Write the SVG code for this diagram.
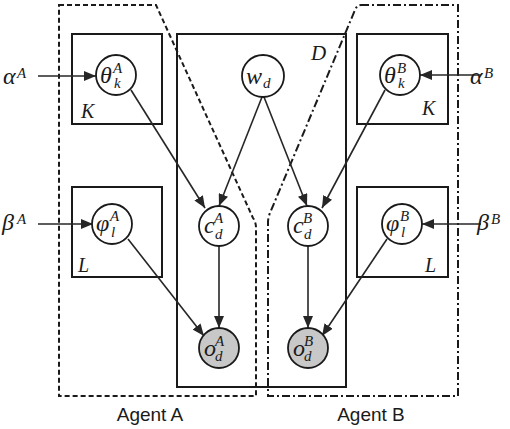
<svg xmlns="http://www.w3.org/2000/svg" width="510" height="429" viewBox="0 0 510 429">
<defs>
<marker id="arr" markerUnits="userSpaceOnUse" markerWidth="12" markerHeight="10" refX="12" refY="5" orient="auto">
<path d="M0,0 L12,5 L0,10 Z" fill="#262626"/>
</marker>
</defs>
<style>
.plate{fill:none;stroke:#1a1a1a;stroke-width:2}
.agA{fill:none;stroke:#1a1a1a;stroke-width:2;stroke-dasharray:5 3}
.agB{fill:none;stroke:#1a1a1a;stroke-width:2;stroke-dasharray:8 3 2 3}
.node{fill:#fff;stroke:#1a1a1a;stroke-width:1.8}
.obs{fill:#c8c8c8;stroke:#1a1a1a;stroke-width:1.8}
.edge{stroke:#262626;stroke-width:1.6;fill:none;marker-end:url(#arr)}
.m{font-family:"Liberation Serif","DejaVu Serif",serif;font-style:italic;fill:#1a1a1a}
.b{font-size:24px}
.s{font-size:15px}
.lbl{font-family:"Liberation Sans",Arial,sans-serif;font-size:19px;fill:#1a1a1a;text-anchor:middle}
</style>
<rect width="510" height="429" fill="#fff"/>
<g id="plates">
<rect class="plate" x="177" y="34" width="169" height="353"/>
<rect class="plate" x="72" y="34" width="90" height="90"/>
<rect class="plate" x="72" y="187" width="90" height="90"/>
<rect class="plate" x="357" y="34" width="91" height="90"/>
<rect class="plate" x="357" y="187" width="91" height="90"/>
<text class="m" x="311" y="60" font-size="21">D</text>
<text class="m" x="81" y="118" font-size="20">K</text>
<text class="m" x="422" y="115" font-size="20">K</text>
<text class="m" x="78" y="272" font-size="20">L</text>
<text class="m" x="425" y="272" font-size="20">L</text>
</g>
<g id="agentA">
<path class="agA" d="M59,5 H156 L253,218 Q256,222 256,228 V396 H59 Z"/>
<text class="lbl" x="150" y="421">Agent A</text>
</g>
<g id="agentB">
<path class="agB" d="M361,5 H458 V396 H268 V222 Q268,218 270,213 L355,10 Q357,5 361,5 Z"/>
<text class="lbl" x="371" y="421">Agent B</text>
</g>
<g id="connectors">
<line class="edge" x1="38" y1="76" x2="96" y2="76"/>
<line class="edge" x1="481" y1="75" x2="420" y2="75"/>
<line class="edge" x1="38" y1="224" x2="93" y2="224"/>
<line class="edge" x1="481" y1="224" x2="422" y2="224"/>
<line class="edge" x1="131" y1="90" x2="205" y2="208"/>
<line class="edge" x1="262" y1="97" x2="219" y2="206"/>
<line class="edge" x1="264" y1="97" x2="307" y2="206"/>
<line class="edge" x1="385" y1="90" x2="322" y2="208"/>
<line class="edge" x1="219" y1="246" x2="219" y2="328"/>
<line class="edge" x1="308" y1="246" x2="308" y2="328"/>
<line class="edge" x1="128" y1="239" x2="204" y2="336"/>
<line class="edge" x1="387" y1="239" x2="322" y2="336"/>
</g>
<g id="alphaA"><text class="m b" x="3" y="84">α</text><text class="m s" x="17" y="78">A</text></g>
<g id="alphaB"><text class="m b" x="470" y="84">α</text><text class="m s" x="484" y="78">B</text></g>
<g id="betaA"><text class="m b" x="2" y="230">β</text><text class="m s" x="17" y="224">A</text></g>
<g id="betaB"><text class="m b" x="477" y="230">β</text><text class="m s" x="491" y="224">B</text></g>
<g id="thetaA"><circle class="node" cx="116" cy="75" r="20"/><text class="m b" x="100" y="83">θ</text><text class="m s" x="113" y="73">A</text><text class="m s" x="114" y="88">k</text></g>
<g id="thetaB"><circle class="node" cx="400" cy="75" r="20"/><text class="m b" x="384" y="83">θ</text><text class="m s" x="397" y="73">B</text><text class="m s" x="398" y="88">k</text></g>
<g id="w"><circle class="node" cx="263" cy="76" r="21"/><text class="m b" x="246" y="84">w</text><text class="m s" x="263" y="88">d</text></g>
<g id="cA"><circle class="node" cx="219" cy="226" r="20"/><text class="m b" x="204" y="233">c</text><text class="m s" x="214" y="223">A</text><text class="m s" x="215" y="239">d</text></g>
<g id="cB"><circle class="node" cx="308" cy="226" r="20"/><text class="m b" x="293" y="233">c</text><text class="m s" x="303" y="223">B</text><text class="m s" x="304" y="239">d</text></g>
<g id="phiA"><circle class="node" cx="112" cy="224" r="20"/><text class="m b" x="96" y="231">φ</text><text class="m s" x="110" y="221">A</text><text class="m s" x="111" y="237">l</text></g>
<g id="phiB"><circle class="node" cx="402" cy="224" r="20"/><text class="m b" x="386" y="231">φ</text><text class="m s" x="400" y="221">B</text><text class="m s" x="401" y="237">l</text></g>
<g id="oA"><circle class="obs" cx="219" cy="348" r="20"/><text class="m b" x="204" y="356">o</text><text class="m s" x="215" y="346">A</text><text class="m s" x="215" y="361">d</text></g>
<g id="oB"><circle class="obs" cx="308" cy="348" r="20"/><text class="m b" x="293" y="356">o</text><text class="m s" x="304" y="346">B</text><text class="m s" x="304" y="361">d</text></g>
</svg>
